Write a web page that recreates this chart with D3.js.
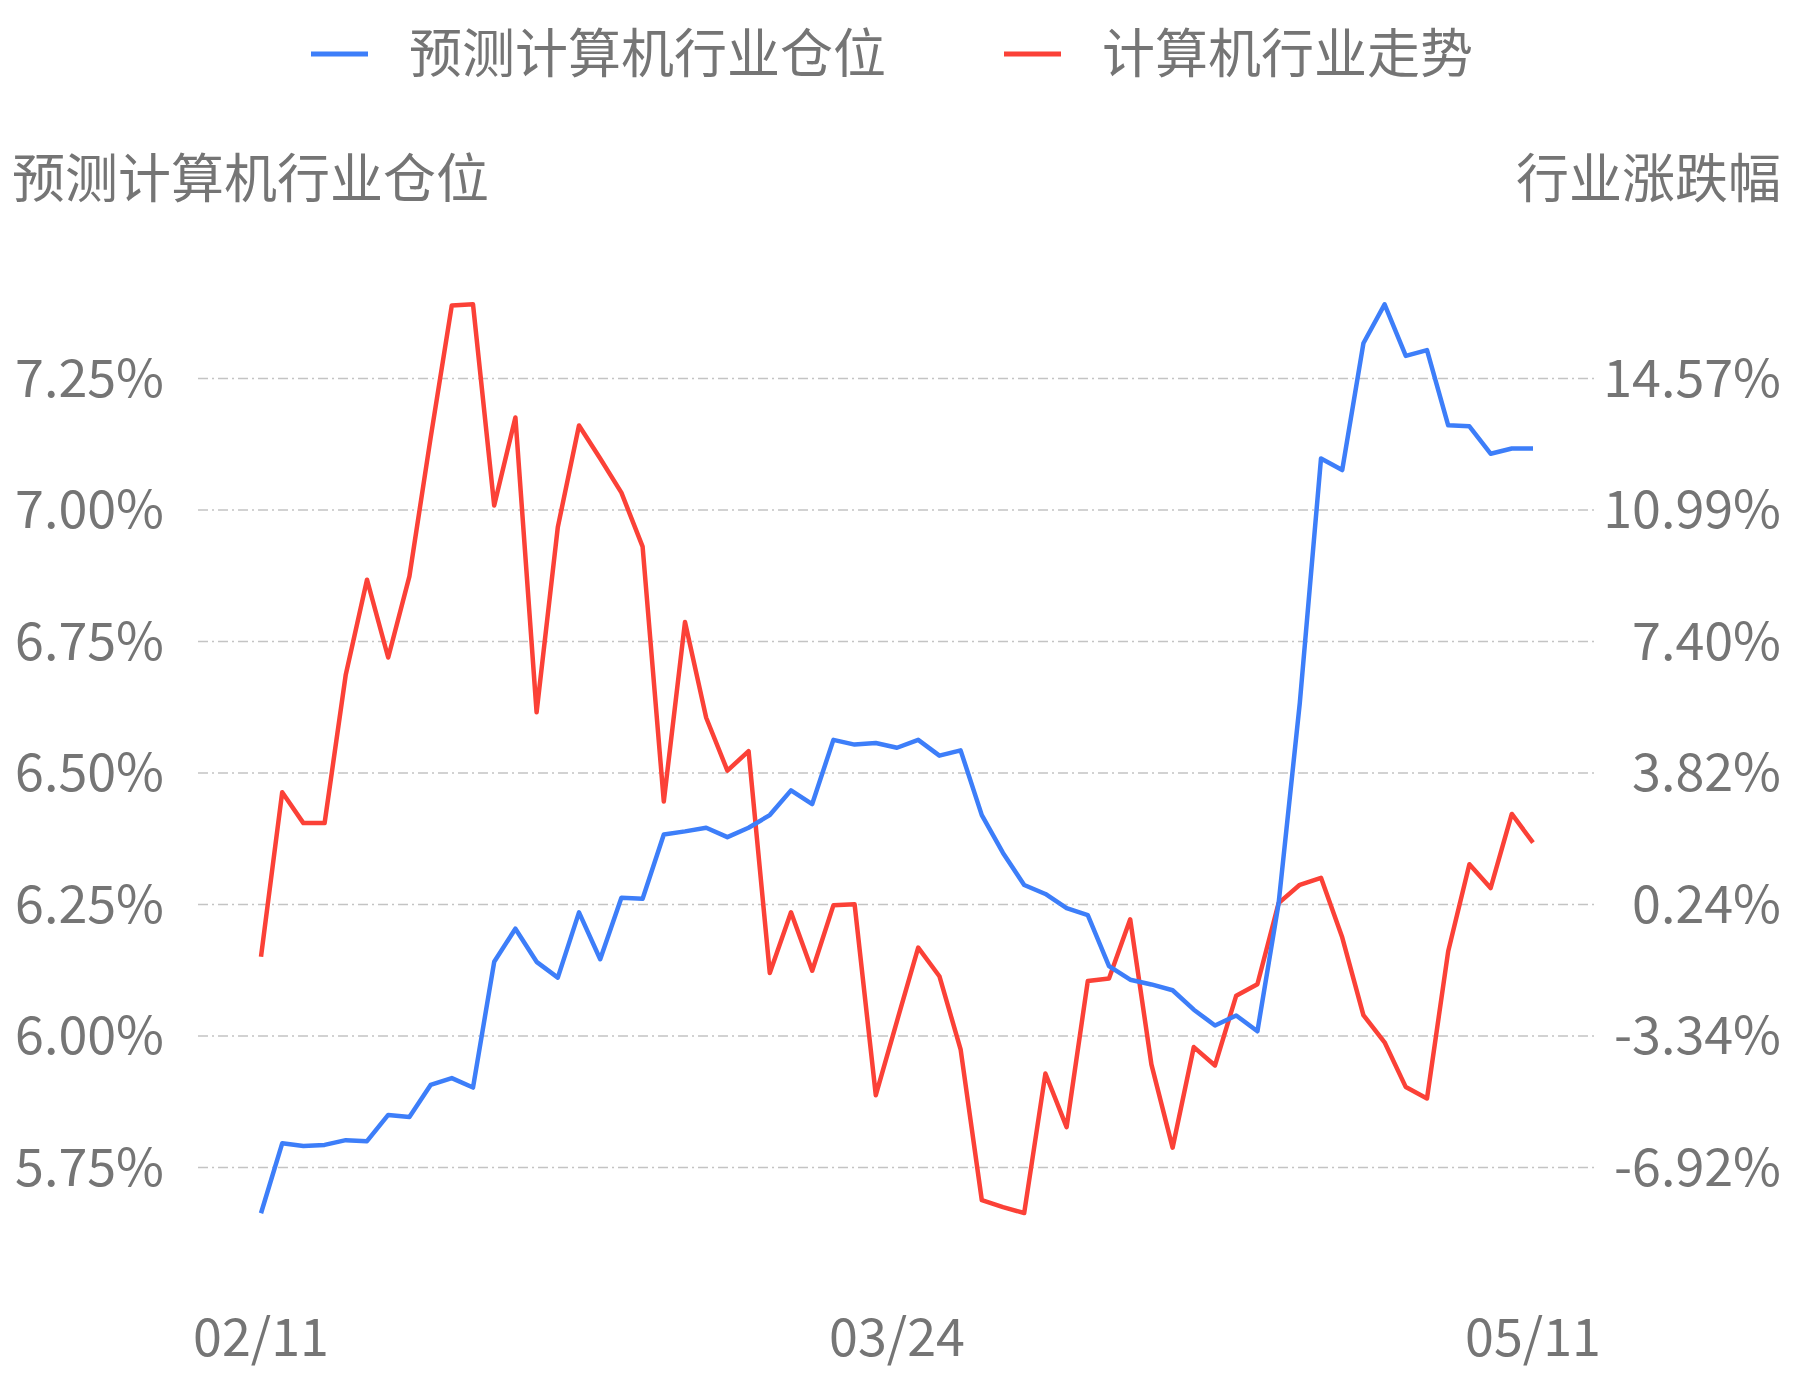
<!DOCTYPE html>
<html><head><meta charset="utf-8">
<script src="https://cdn.jsdelivr.net/npm/d3@7"></script>
<style>body{margin:0;background:#fff}text{font-family:"Noto Sans CJK SC","Noto Sans",sans-serif;fill:#757575}</style>
</head><body>
<script>
const xLabels = ['02/11', '03/24', '05/11'];
const xLabelIdx = [0, 30, 60];
const leftTicks = [5.75, 6.00, 6.25, 6.50, 6.75, 7.00, 7.25];
const rightTicks = [-6.92, -3.34, 0.24, 3.82, 7.40, 10.99, 14.57];
const position = [5.663,5.796,5.791,5.793,5.802,5.800,5.850,5.846,5.907,5.920,5.902,6.141,6.204,6.141,6.111,6.235,6.146,6.263,6.261,6.383,6.389,6.396,6.378,6.396,6.420,6.467,6.441,6.563,6.554,6.557,6.548,6.563,6.533,6.543,6.420,6.348,6.287,6.270,6.243,6.230,6.133,6.107,6.098,6.087,6.050,6.020,6.039,6.009,6.252,6.633,7.098,7.076,7.317,7.391,7.293,7.304,7.161,7.159,7.107,7.117,7.117];
const trend = [-1.18,3.30,2.46,2.46,6.51,9.09,6.97,9.18,12.95,16.56,16.59,11.11,13.51,5.48,10.52,13.29,12.39,11.46,9.99,3.05,7.94,5.33,3.89,4.42,-1.62,0.03,-1.56,0.22,0.25,-4.95,-2.93,-0.93,-1.71,-3.70,-7.81,-8.00,-8.16,-4.36,-5.82,-1.84,-1.77,-0.16,-4.11,-6.38,-3.64,-4.14,-2.24,-1.93,0.28,0.78,0.97,-0.65,-2.77,-3.51,-4.73,-5.04,-1.03,1.34,0.69,2.71,1.93];

const W = 1793, H = 1380, blue = '#3d7ef9', red = '#fb4137';
const svg = d3.select('body').append('svg').attr('width', W).attr('height', H);
const x = d3.scaleLinear().domain([0, 60]).range([261, 1533]);
const yL = d3.scaleLinear().domain([5.75, 7.25]).range([1167.5, 378.5]);
const yR = d3.scaleLinear().domain([-6.92, 14.57]).range([1167.5, 378.5]);

// grid
svg.selectAll('.grid').data(leftTicks).enter().append('line')
  .attr('x1', 198).attr('x2', 1595)
  .attr('y1', d => yL(d)).attr('y2', d => yL(d))
  .attr('stroke', '#c4c4c4').attr('stroke-width', 1.5).attr('stroke-dasharray', '10,4,2,4');

svg.selectAll('.lt').data(leftTicks).enter().append('text')
  .attr('x', 164).attr('y', d => yL(d)).attr('dy', '0.35em')
  .attr('text-anchor', 'end').attr('font-size', 52).text(d => d.toFixed(2) + '%');
svg.selectAll('.rt').data(rightTicks).enter().append('text')
  .attr('x', 1781).attr('y', d => yR(d)).attr('dy', '0.35em')
  .attr('text-anchor', 'end').attr('font-size', 52).text(d => d.toFixed(2) + '%');

svg.selectAll('.xt').data(xLabelIdx).enter().append('text')
  .attr('x', d => x(d)).attr('y', 1356).attr('text-anchor', 'middle')
  .attr('font-size', 52).text((d, i) => xLabels[i]);

svg.append('text').attr('x', 12).attr('y', 198).attr('font-size', 53).text('预测计算机行业仓位');
svg.append('text').attr('x', 1781).attr('y', 198).attr('text-anchor', 'end').attr('font-size', 53).text('行业涨跌幅');

const line = (y) => d3.line().x((d, i) => x(i)).y(d => y(d));
svg.append('path').datum(trend).attr('d', line(yR)).attr('fill', 'none')
  .attr('stroke', red).attr('stroke-width', 4.5).attr('stroke-linejoin', 'round');
svg.append('path').datum(position).attr('d', line(yL)).attr('fill', 'none')
  .attr('stroke', blue).attr('stroke-width', 4.5).attr('stroke-linejoin', 'round');

// legend
const legend = [{n: '预测计算机行业仓位', c: blue, x: 311}, {n: '计算机行业走势', c: red, x: 1004}];
legend.forEach(l => {
  svg.append('line').attr('x1', l.x).attr('x2', l.x + 57).attr('y1', 54).attr('y2', 54)
    .attr('stroke', l.c).attr('stroke-width', 5);
  svg.append('text').attr('x', l.x + 98).attr('y', 54).attr('dy', '0.35em')
    .attr('font-size', 53).text(l.n);
});
</script>
</body></html>
